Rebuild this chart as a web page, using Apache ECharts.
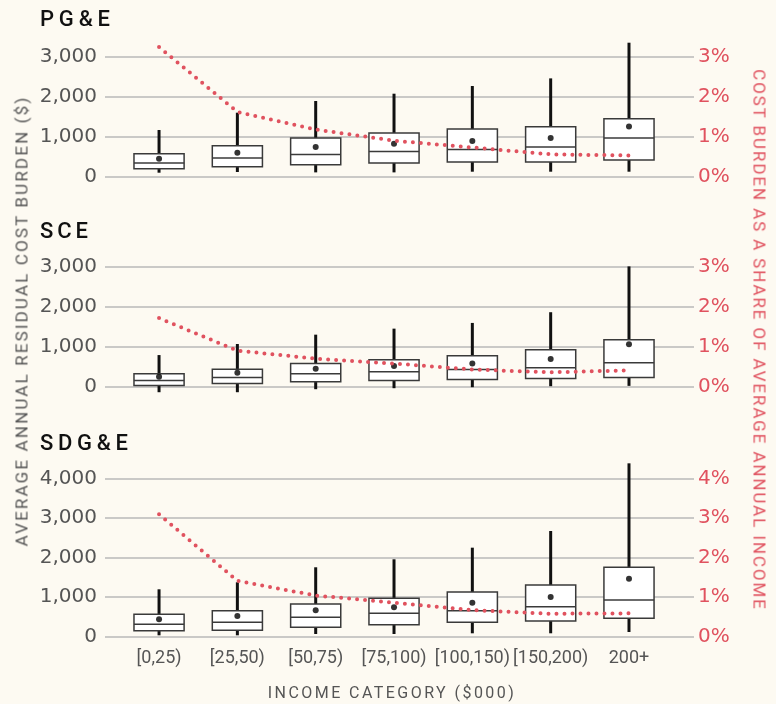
<!DOCTYPE html>
<html>
<head>
<meta charset="utf-8">
<script src="https://cdn.jsdelivr.net/npm/echarts@6/dist/echarts.min.js"></script>
<style>
  html, body { margin: 0; background: #fdfaf2; }
  #wrap { position: relative; width: 776px; height: 704px; }
  #chart { width: 776px; height: 704px; }
  .lbl { position: absolute; white-space: nowrap; line-height: 1; font-family: Roboto, sans-serif; }
</style>
</head>
<body>
<div id="wrap"><div id="chart"></div></div>
<script>
const categories = ["[0,25)", "[25,50)", "[50,75)", "[75,100)", "[100,150)", "[150,200)", "200+"];
const panelNames = ["PG&E", "SCE", "SDG&E"];

// [lower whisker, Q1, median, Q3, upper whisker] in $
const pgeBoxes = [
  [100, 200, 342, 575, 1167],
  [117, 250, 467, 775, 1600],
  [108, 300, 558, 967, 1892],
  [108, 342, 633, 1092, 2075],
  [125, 367, 683, 1192, 2267],
  [125, 367, 742, 1250, 2458],
  [125, 417, 967, 1450, 3350],
];
const pgeMeans = [450, 600, 742, 825, 892, 967, 1258];
const pgeShare = [3.24, 1.62, 1.18, 0.9, 0.73, 0.56, 0.53];

const sceBoxes = [
  [-125, 42, 167, 333, 800],
  [-125, 92, 242, 450, 1075],
  [-50, 133, 333, 592, 1308],
  [-25, 167, 383, 683, 1458],
  [0, 192, 442, 783, 1600],
  [25, 217, 483, 933, 1867],
  [33, 242, 608, 1183, 3008],
];
const sceMeans = [258, 358, 458, 525, 592, 700, 1067];
const sceShare = [1.72, 0.91, 0.71, 0.59, 0.44, 0.37, 0.42];

const sdgeBoxes = [
  [35, 152, 313, 566, 1197],
  [35, 162, 364, 657, 1374],
  [68, 237, 490, 826, 1753],
  [68, 303, 591, 970, 1955],
  [86, 364, 657, 1129, 2248],
  [86, 396, 758, 1306, 2669],
  [119, 465, 927, 1753, 4378],
];
const sdgeMeans = [439, 523, 667, 742, 859, 1003, 1465];
const sdgeShare = [3.09, 1.41, 1.04, 0.86, 0.67, 0.58, 0.59];

const costMax = [3000, 3000, 4000];
const shareMax = [3, 3, 4];

const RED = "#e0525f";
const GREY = "#555";
const BOX_W = 0.64;

const panels = [
  { boxes: pgeBoxes, means: pgeMeans, share: pgeShare, top: 56.7, height: 120 },
  { boxes: sceBoxes, means: sceMeans, share: sceShare, top: 266.7, height: 120.5 },
  { boxes: sdgeBoxes, means: sdgeMeans, share: sdgeShare, top: 478.3, height: 158.4 },
];

function renderBox(params, api) {
  const x = api.value(0);
  const lo = api.coord([x, api.value(1)]);
  const q1 = api.coord([x, api.value(2)]);
  const med = api.coord([x, api.value(3)]);
  const q3 = api.coord([x, api.value(4)]);
  const hi = api.coord([x, api.value(5)]);
  const half = api.size([BOX_W, 0])[0] / 2;
  return {
    type: "group",
    children: [
      { type: "line", shape: { x1: lo[0], y1: lo[1], x2: hi[0], y2: hi[1] }, style: { stroke: "#111", lineWidth: 3 } },
      { type: "rect", shape: { x: q3[0] - half, y: q3[1], width: half * 2, height: q1[1] - q3[1] }, style: { fill: "#fff", stroke: "#3a3a3a", lineWidth: 1.5 } },
      { type: "line", shape: { x1: med[0] - half, y1: med[1], x2: med[0] + half, y2: med[1] }, style: { stroke: "#3a3a3a", lineWidth: 1.5 } },
    ],
  };
}

const grid = [], xAxis = [], yAxis = [], series = [];
panels.forEach((p, i) => {
  const last = i === panels.length - 1;
  grid.push({ left: 105, right: 82, top: p.top, height: p.height });
  xAxis.push({
    type: "value",
    gridIndex: i,
    min: -0.69,
    max: 6.83,
    splitLine: { show: false },
    axisLine: { show: false },
    axisTick: { show: false },
    axisLabel: {
      show: last,
      customValues: [0, 1, 2, 3, 4, 5, 6],
      formatter: (v) => categories[Math.round(v)] ?? "",
      color: GREY,
      fontFamily: "Roboto",
      fontSize: 18,
      margin: 13,
    },
  });
  yAxis.push({
    type: "value",
    gridIndex: i,
    min: 0,
    max: costMax[i],
    interval: 1000,
    axisLine: { show: false },
    axisTick: { show: false },
    splitLine: { lineStyle: { color: "#b9b9b9", width: 1.5 } },
    axisLabel: {
      color: GREY,
      fontFamily: "DejaVu Sans",
      fontSize: 20,
      margin: 8,
      formatter: (v) => v.toLocaleString("en-US"),
    },
  });
  yAxis.push({
    type: "value",
    gridIndex: i,
    position: "right",
    min: 0,
    max: shareMax[i],
    interval: 1,
    axisLine: { show: false },
    axisTick: { show: false },
    splitLine: { show: false },
    axisLabel: { color: RED, fontFamily: "DejaVu Sans", fontSize: 20, margin: 4, formatter: "{value}%" },
  });
  series.push({
    type: "custom",
    xAxisIndex: i,
    yAxisIndex: i * 2,
    clip: false,
    renderItem: renderBox,
    encode: { x: 0, y: [1, 2, 3, 4, 5] },
    data: p.boxes.map((b, k) => [k, ...b]),
    z: 2,
  });
  series.push({
    type: "scatter",
    xAxisIndex: i,
    yAxisIndex: i * 2,
    clip: false,
    symbolSize: 6,
    itemStyle: { color: "#000" },
    data: p.means.map((m, k) => [k, m]),
    z: 3,
  });
  series.push({
    type: "line",
    xAxisIndex: i,
    yAxisIndex: i * 2 + 1,
    clip: false,
    symbol: "none",
    lineStyle: { color: RED, width: 4, type: [0, 8], cap: "round" },
    data: p.share.map((s, k) => [k, s]),
    z: 4,
  });
});

const chart = echarts.init(document.getElementById("chart"));
chart.setOption({
  animation: false,
  backgroundColor: "#fdfaf2",
  grid,
  xAxis,
  yAxis,
  series,
});

// letter-spaced text, fitted to the width it spans in the original
const measure = document.createElement("canvas").getContext("2d");
function addLabel(text, { x, y, size, color, span, rotate = 0, align = "center", weight = 400 }) {
  const el = document.createElement("div");
  el.className = "lbl";
  el.textContent = text;
  measure.font = `${weight} ${size}px Roboto`;
  const w = measure.measureText(text).width;
  const sp = Math.max(0, (span - w) / (text.length - 1));
  Object.assign(el.style, {
    left: x + "px",
    top: y + "px",
    fontSize: size + "px",
    fontWeight: weight,
    color,
    letterSpacing: sp + "px",
    transform: align === "center" ? `translate(-50%,-50%) rotate(${rotate}deg)` : "translate(0,-50%)",
  });
  document.getElementById("wrap").appendChild(el);
}

const titleSpans = [70, 48, 88];
const titleCenters = [19, 231, 443];
panelNames.forEach((name, i) => {
  addLabel(name, { x: 40, y: titleCenters[i], size: 22, color: "#111", span: titleSpans[i], align: "left", weight: 500 });
});
addLabel("AVERAGE ANNUAL RESIDUAL COST BURDEN ($)", { x: 22, y: 321, size: 17, color: GREY, span: 449, rotate: -90 });
addLabel("COST BURDEN AS A SHARE OF AVERAGE ANNUAL INCOME", { x: 759, y: 340, size: 17, color: RED, span: 540, rotate: 90 });
addLabel("INCOME CATEGORY ($000)", { x: 392, y: 693, size: 16, color: GREY, span: 246 });
</script>
</body>
</html>
